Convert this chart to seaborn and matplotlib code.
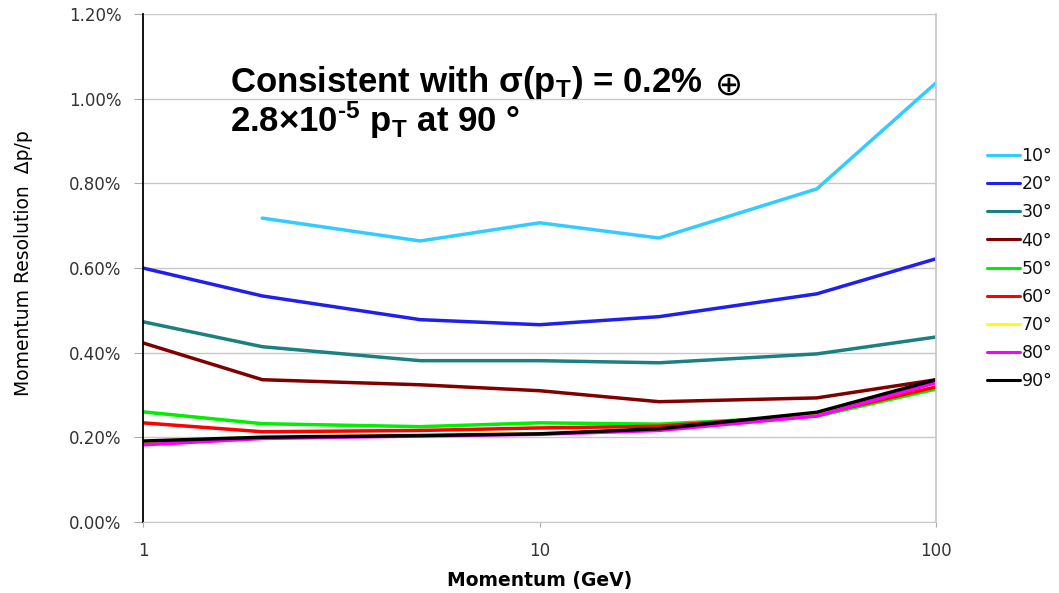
import matplotlib
matplotlib.use("Agg")
import matplotlib.pyplot as plt
import matplotlib.ticker as mticker
import numpy as np
import pandas as pd
import seaborn as sns

# ── data (momentum resolution in %) ───────────────────────────────────────────
MOMENTUM = [1, 2, 5, 10, 20, 50, 100]
ANGLES   = ["10°", "20°", "30°", "40°", "50°", "60°", "70°", "80°", "90°"]

res_10 = [np.nan, 0.718, 0.664, 0.707, 0.671, 0.787, 1.038]
res_20 = [0.600, 0.534, 0.478, 0.466, 0.485, 0.539, 0.622]
res_30 = [0.473, 0.414, 0.381, 0.381, 0.376, 0.397, 0.437]
res_40 = [0.423, 0.336, 0.324, 0.310, 0.284, 0.293, 0.336]
res_50 = [0.260, 0.232, 0.225, 0.234, 0.231, 0.250, 0.314]
res_60 = [0.234, 0.213, 0.216, 0.222, 0.226, 0.253, 0.319]
res_70 = [0.190, 0.200, 0.205, 0.209, 0.219, 0.255, 0.330]
res_80 = [0.182, 0.197, 0.203, 0.207, 0.216, 0.250, 0.329]
res_90 = [0.191, 0.200, 0.204, 0.208, 0.220, 0.259, 0.336]

COLORS = ["#33ccff", "#2020ee", "#1a8080", "#800000", "#00ee00",
          "#ff0000", "#ffff00", "#ff00ff", "#000000"]

# ── long-form table ──────────────────────────────────────────────────────────
series = [res_10, res_20, res_30, res_40, res_50, res_60, res_70, res_80, res_90]
rows = []
for ang, vals in zip(ANGLES, series):
    for p, v in zip(MOMENTUM, vals):
        rows.append({"momentum": p, "resolution": v / 100.0, "angle": ang})
df = pd.DataFrame(rows).dropna()

# ── style ────────────────────────────────────────────────────────────────────
sns.set_style("white")
plt.rcParams["font.family"] = ["DejaVu Sans"]
plt.rcParams["mathtext.fontset"] = "custom"
plt.rcParams["mathtext.rm"] = "Liberation Sans:bold"
plt.rcParams["mathtext.it"] = "Liberation Sans:bold"
plt.rcParams["mathtext.bf"] = "Liberation Sans:bold"

fig = plt.figure(figsize=(10.59, 5.93), dpi=100)
ax = fig.add_axes([0.135, 0.120, 0.749, 0.856])

sns.lineplot(
    data=df, x="momentum", y="resolution", hue="angle",
    hue_order=ANGLES, palette=COLORS, linewidth=2.5,
    ax=ax, legend=True,
)

ax.set_xscale("log")
ax.set_xlim(1, 100)
ax.set_ylim(0, 0.012)
ax.xaxis.set_major_locator(mticker.FixedLocator([1, 10, 100]))
ax.xaxis.set_major_formatter(mticker.FixedFormatter(["1", "10", "100"]))
ax.xaxis.set_minor_locator(mticker.NullLocator())
ax.yaxis.set_major_locator(mticker.MultipleLocator(0.002))
ax.yaxis.set_major_formatter(mticker.PercentFormatter(1.0, decimals=2))

ax.grid(axis="y", color="#c8c8c8", lw=1.0)
ax.set_axisbelow(True)
ax.spines["top"].set_visible(False)
ax.spines["left"].set_color("black")
ax.spines["left"].set_linewidth(1.3)
ax.spines["bottom"].set_color("#c8c8c8")
ax.spines["right"].set_color("#c8c8c8")
ax.spines["right"].set_linewidth(1.3)

ax.tick_params(axis="both", direction="out", color="#aaaaaa",
               labelsize=12, labelcolor="#333333", left=True, bottom=True)
ax.tick_params(axis="y", length=6.5, pad=9)
ax.tick_params(axis="x", length=3.5, pad=11)

ax.set_xlabel("Momentum (GeV)", fontsize=13.5, fontweight="bold",
              labelpad=8, color="black")
ax.set_ylabel("Momentum Resolution  Δp/p", fontsize=13.5, color="black")
ax.yaxis.set_label_coords(-0.139, 0.51)

# annotation text
TXT = dict(transform=ax.transAxes, fontsize=25, fontweight="bold",
           family="Liberation Sans", va="baseline", color="black")
t1 = ax.text(0.110, 0.846, r"Consistent with σ(p$_{T}$) = 0.2%", **TXT)
ax.text(0.110, 0.768, r"2.8×10$^{‐5}$ p$_{T}$ at 90 °", **TXT)
ax.annotate("⊕", xy=(1, 0.45), xycoords=t1, xytext=(9, 0),
            textcoords="offset points", fontsize=24, family="DejaVu Sans",
            va="center", ha="left", color="black")

handles, labels = ax.get_legend_handles_labels()
leg = ax.legend(handles, labels, loc="upper left", bbox_to_anchor=(1.055, 0.752),
                frameon=False, fontsize=12.5, handlelength=1.9,
                handletextpad=0.1, labelspacing=0.585, borderaxespad=0)
for ln in leg.get_lines():
    ln.set_linewidth(2.2)
for txt in leg.get_texts():
    txt.set_color("#111111")

fig.savefig("out.png", dpi=100)
